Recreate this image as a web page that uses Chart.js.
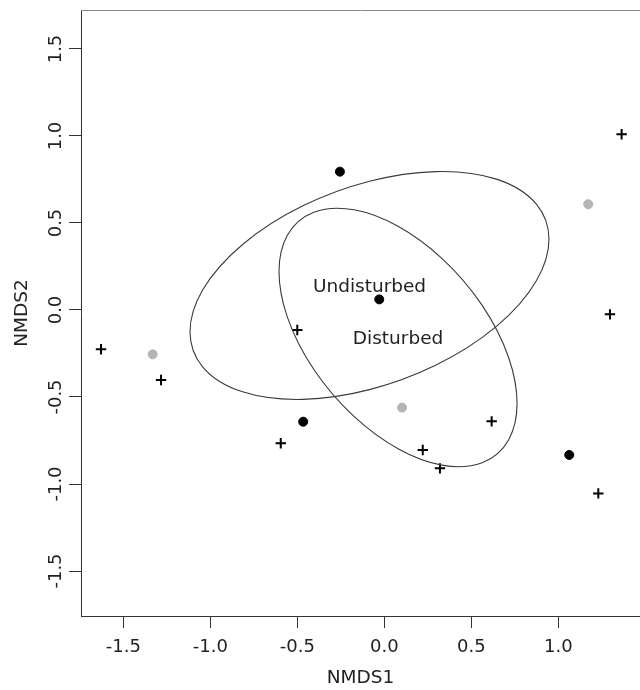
<!DOCTYPE html>
<html><head><meta charset="utf-8">
<script src="https://cdn.jsdelivr.net/npm/chart.js@4"></script>
<style>html,body{margin:0;padding:0;background:#fff;overflow:hidden}</style>
</head><body>
<canvas id="c" width="640" height="690"></canvas>
<script>
// Site scores (NMDS1, NMDS2)
const crossX = [-1.628, -1.283, -0.500, -0.595, 0.221, 0.320, 0.617, 1.297, 1.230, 1.364];
const crossY = [-0.226, -0.402, -0.115, -0.766, -0.805, -0.910, -0.640, -0.025, -1.054, 1.010];
const blackX = [-0.255, -0.029, -0.466, 1.063];
const blackY = [0.795, 0.061, -0.642, -0.833];
const greyX = [-1.331, 0.102, 1.172];
const greyY = [-0.255, -0.561, 0.608];
// Group ellipses (centre and covariance)
const groupNames = ["Undisturbed", "Disturbed"];
const ellipseCx = [-0.085, 0.079];
const ellipseCy = [0.141, -0.158];
const ellipseVarX = [1.064, 0.468];
const ellipseVarY = [0.429, 0.552];
const ellipseCov = [0.274, -0.259];
// Axes
const xTicks = [-1.5, -1.0, -0.5, 0.0, 0.5, 1.0];
const yTicks = [-1.5, -1.0, -0.5, 0.0, 0.5, 1.0, 1.5];
const xLimits = [-1.743, 1.4696];
const yLimits = [-1.7586, 1.7241];

const FONT = 'DejaVu Sans';
const pts = (xs, ys) => xs.map((x, i) => ({x: x, y: ys[i]}));

const ellipsePlugin = {
  id: 'ellipses',
  afterDatasetsDraw(chart) {
    const ctx = chart.ctx, xs = chart.scales.x, ys = chart.scales.y, ca = chart.chartArea;
    const kx = xs.getPixelForValue(1) - xs.getPixelForValue(0);
    const ky = ys.getPixelForValue(0) - ys.getPixelForValue(1);
    ctx.save();
    for (let i = 0; i < groupNames.length; i++) {
      const l11 = Math.sqrt(ellipseVarX[i]);
      const l21 = ellipseCov[i] / l11;
      const l22 = Math.sqrt(ellipseVarY[i] - l21 * l21);
      const px = xs.getPixelForValue(ellipseCx[i]);
      const py = ys.getPixelForValue(ellipseCy[i]);
      ctx.save();
      ctx.translate(px, py);
      ctx.transform(kx * l11, -ky * l21, 0, -ky * l22, 0, 0);
      ctx.beginPath();
      ctx.arc(0, 0, 1, 0, 2 * Math.PI);
      ctx.closePath();
      ctx.restore();
      ctx.strokeStyle = '#3a3a3a';
      ctx.lineWidth = 1.1;
      ctx.stroke();
      ctx.font = '18.5px "' + FONT + '"';
      ctx.fillStyle = '#222';
      ctx.textAlign = 'center';
      ctx.textBaseline = 'middle';
      ctx.fillText(groupNames[i], px, py + 2);
    }
    // top border of the plot box
    ctx.beginPath();
    ctx.moveTo(ca.left, Math.round(ca.top) + 0.5);
    ctx.lineTo(ca.right, Math.round(ca.top) + 0.5);
    ctx.strokeStyle = '#888';
    ctx.lineWidth = 1;
    ctx.stroke();
    ctx.restore();
  }
};

new Chart(document.getElementById('c'), {
  type: 'scatter',
  data: {
    datasets: [
      {data: pts(crossX, crossY), pointStyle: 'cross', pointRadius: 5.2, borderColor: '#000', backgroundColor: '#000', borderWidth: 2},
      {data: pts(blackX, blackY), pointStyle: 'circle', pointRadius: 4.5, borderColor: '#000', backgroundColor: '#000', borderWidth: 1},
      {data: pts(greyX, greyY), pointStyle: 'circle', pointRadius: 4.5, borderColor: '#b4b4b4', backgroundColor: '#b4b4b4', borderWidth: 1}
    ]
  },
  options: {
    responsive: false,
    animation: false,
    events: [],
    layout: {autoPadding: false, padding: {top: 10, left: 0, right: 0, bottom: 0}},
    plugins: {legend: {display: false}, tooltip: {enabled: false}},
    scales: {
      x: {
        type: 'linear', position: 'bottom', min: xLimits[0], max: xLimits[1],
        afterBuildTicks: s => { s.ticks = xTicks.map(v => ({value: v})); },
        afterFit: s => { s.height = 74; },
        grid: {display: true, drawOnChartArea: false, drawTicks: true, tickLength: 12, tickColor: '#333', tickWidth: 1},
        border: {display: true, color: '#333', width: 1},
        ticks: {font: {family: FONT, size: 18}, color: '#222', padding: 9, minRotation: 0, maxRotation: 0, autoSkip: false,
                callback: v => Number(v).toFixed(1)},
        title: {display: true, text: 'NMDS1', font: {family: FONT, size: 18.5}, color: '#222', padding: {top: 0, bottom: 1}}
      },
      y: {
        type: 'linear', position: 'left', min: yLimits[0], max: yLimits[1],
        afterBuildTicks: s => { s.ticks = yTicks.map(v => ({value: v})); },
        afterFit: s => { s.width = 81; },
        grid: {display: true, drawOnChartArea: false, drawTicks: true, tickLength: 12, tickColor: '#333', tickWidth: 1},
        border: {display: true, color: '#333', width: 1},
        ticks: {font: {family: FONT, size: 18}, color: '#222', padding: -4.5, minRotation: 90, maxRotation: 90, autoSkip: false,
                crossAlign: 'center', callback: v => Number(v).toFixed(1)},
        title: {display: true, text: 'NMDS2', font: {family: FONT, size: 18.5}, color: '#222', padding: {top: 11, bottom: 0}}
      }
    }
  },
  plugins: [ellipsePlugin]
});
</script>
</body></html>
